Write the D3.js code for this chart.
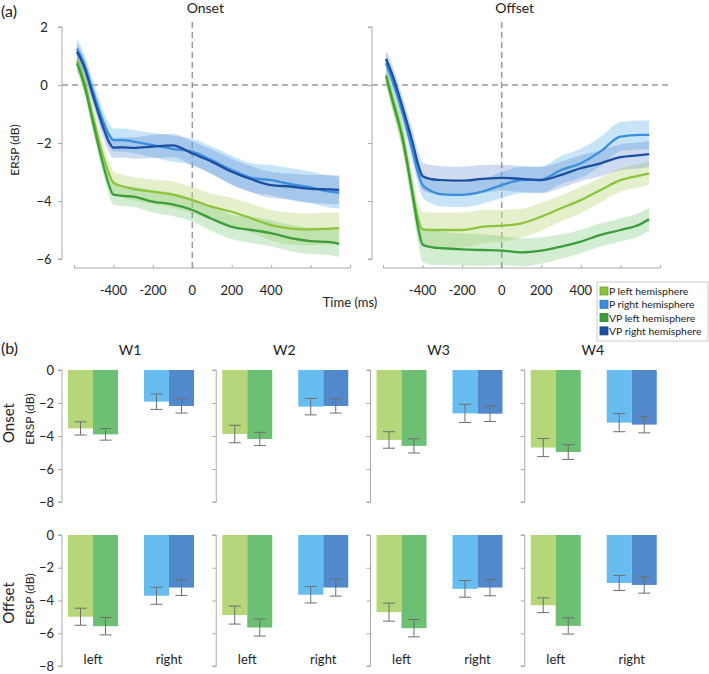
<!DOCTYPE html>
<html>
<head>
<meta charset="utf-8">
<script src="https://cdn.jsdelivr.net/npm/d3@7"></script>
<style>
  body { margin: 0; background: #fff; }
  text { font-family: Lato, "Open Sans", sans-serif; fill: #222; }
</style>
</head>
<body>
<svg id="chart" width="709" height="674"></svg>
<script>
// ---- data (a): time course ----
const time = [-585, -550, -500, -450, -420, -400, -350, -300, -200, -100, 0, 100, 200, 300, 400, 500, 600, 700, 745];

const onsetPLeft   = [0.85, 0.2, -1.2, -2.5, -3.1, -3.37, -3.5, -3.58, -3.68, -3.78, -3.97, -4.2, -4.37, -4.6, -4.83, -4.95, -4.98, -4.95, -4.94];
const onsetVPLeft  = [0.75, 0.05, -1.4, -2.8, -3.5, -3.78, -3.82, -3.85, -4.02, -4.12, -4.31, -4.62, -4.89, -5.0, -5.11, -5.28, -5.38, -5.42, -5.48];
const onsetPRight  = [1.25, 0.75, -0.3, -1.3, -1.75, -1.9, -1.9, -1.95, -2.07, -2.2, -2.3, -2.6, -2.93, -3.2, -3.28, -3.42, -3.53, -3.68, -3.71];
const onsetVPRight = [1.15, 0.65, -0.45, -1.5, -2.0, -2.16, -2.15, -2.17, -2.12, -2.08, -2.36, -2.65, -2.99, -3.25, -3.45, -3.5, -3.58, -3.6, -3.62];

const onsetSEPLeft   = [0.35, 0.35, 0.4, 0.4, 0.4, 0.4, 0.4, 0.4, 0.42, 0.45, 0.45, 0.45, 0.48, 0.5, 0.52, 0.55, 0.55, 0.55, 0.55];
const onsetSEVPLeft  = [0.3, 0.3, 0.35, 0.35, 0.35, 0.35, 0.35, 0.35, 0.38, 0.4, 0.4, 0.42, 0.42, 0.45, 0.45, 0.45, 0.45, 0.45, 0.45];
const onsetSEPRight  = [0.35, 0.35, 0.38, 0.4, 0.4, 0.4, 0.4, 0.4, 0.42, 0.45, 0.45, 0.48, 0.5, 0.5, 0.52, 0.55, 0.55, 0.55, 0.55];
const onsetSEVPRight = [0.3, 0.3, 0.33, 0.35, 0.35, 0.35, 0.35, 0.37, 0.4, 0.4, 0.42, 0.42, 0.45, 0.45, 0.45, 0.45, 0.48, 0.5, 0.5];

const offsetPLeft   = [0.35, -0.5, -1.8, -3.7, -4.7, -4.98, -5.0, -5.0, -5.0, -4.89, -4.85, -4.77, -4.54, -4.25, -3.97, -3.62, -3.28, -3.12, -3.05];
const offsetVPLeft  = [0.3, -0.6, -1.9, -3.8, -5.0, -5.5, -5.6, -5.63, -5.67, -5.69, -5.71, -5.77, -5.71, -5.57, -5.4, -5.17, -5.0, -4.8, -4.63];
const offsetPRight  = [0.75, 0.1, -1.0, -2.3, -3.1, -3.45, -3.68, -3.77, -3.79, -3.68, -3.45, -3.28, -3.26, -2.93, -2.7, -2.29, -1.78, -1.72, -1.72];
const offsetVPRight = [0.9, 0.3, -0.8, -2.0, -2.8, -3.15, -3.25, -3.28, -3.3, -3.24, -3.2, -3.24, -3.28, -3.1, -2.87, -2.7, -2.49, -2.42, -2.38];

const offsetSEPLeft   = [0.35, 0.4, 0.45, 0.5, 0.55, 0.6, 0.6, 0.6, 0.6, 0.58, 0.55, 0.5, 0.48, 0.45, 0.45, 0.42, 0.4, 0.4, 0.4];
const offsetSEVPLeft  = [0.3, 0.35, 0.45, 0.5, 0.55, 0.6, 0.6, 0.58, 0.55, 0.55, 0.5, 0.48, 0.45, 0.42, 0.4, 0.4, 0.4, 0.4, 0.4];
const offsetSEPRight  = [0.35, 0.35, 0.38, 0.4, 0.4, 0.42, 0.42, 0.42, 0.42, 0.42, 0.45, 0.45, 0.45, 0.48, 0.5, 0.5, 0.5, 0.5, 0.5];
const offsetSEVPRight = [0.3, 0.33, 0.38, 0.42, 0.45, 0.48, 0.48, 0.48, 0.48, 0.48, 0.45, 0.45, 0.45, 0.45, 0.45, 0.45, 0.45, 0.45, 0.45];

const seriesNames = ["P left hemisphere", "P right hemisphere", "VP left hemisphere", "VP right hemisphere"];
const xTicks = [-600, -400, -200, 0, 200, 400, 600, 800];
const xTickLabels = [-400, -200, 0, 200, 400];
const yTicksA = [2, 0, -2, -4, -6];

// ---- data (b): window means ----
const windows = ["W1", "W2", "W3", "W4"];
const hemis = ["left", "right"];
const onsetBarPLeft   = [-3.54, -3.88, -4.24, -4.7];
const onsetBarVPLeft  = [-3.9, -4.18, -4.6, -4.97];
const onsetBarPRight  = [-1.92, -2.22, -2.63, -3.19];
const onsetBarVPRight = [-2.18, -2.18, -2.65, -3.31];
const onsetErrPLeft   = [0.4, 0.53, 0.5, 0.55];
const onsetErrVPLeft  = [0.35, 0.4, 0.43, 0.45];
const onsetErrPRight  = [0.47, 0.5, 0.55, 0.55];
const onsetErrVPRight = [0.43, 0.43, 0.47, 0.5];

const offsetBarPLeft   = [-4.99, -4.89, -4.71, -4.29];
const offsetBarVPLeft  = [-5.57, -5.65, -5.69, -5.55];
const offsetBarPRight  = [-3.71, -3.65, -3.29, -2.93];
const offsetBarVPRight = [-3.21, -3.21, -3.21, -3.05];
const offsetErrPLeft   = [0.52, 0.55, 0.55, 0.45];
const offsetErrVPLeft  = [0.53, 0.52, 0.53, 0.5];
const offsetErrPRight  = [0.52, 0.5, 0.51, 0.46];
const offsetErrVPRight = [0.48, 0.52, 0.5, 0.5];
const yTicksB = [0, -2, -4, -6, -8];

// colours
const lineColor = { pl: "#8cc43c", pr: "#3a8fdc", vl: "#3b9e3b", vr: "#1c4fa3" };
const bandColor = { pl: "rgba(196,222,140,0.45)", pr: "rgba(130,195,240,0.45)", vl: "rgba(110,195,110,0.3)", vr: "rgba(80,125,200,0.28)" };
const barColor = { pl: "#b5d77a", vl: "#6dbf74", pr: "#68bdf0", vr: "#5289cc" };
const axisGrey = "#aaa";

const svg = d3.select("#chart");
svg.append("rect").attr("width", 709).attr("height", 674).attr("fill", "#fff");

// ================= (a) =================
const yA = d3.scaleLinear().domain([-6, 2]).range([259, 27]);
const panelsA = [
  { title: "Onset", x: d3.scaleLinear().domain([-600, 800]).range([74, 350]), axisX: 62, labels: true,
    series: [
      { k: "pl", v: onsetPLeft, se: onsetSEPLeft }, { k: "pr", v: onsetPRight, se: onsetSEPRight },
      { k: "vl", v: onsetVPLeft, se: onsetSEVPLeft }, { k: "vr", v: onsetVPRight, se: onsetSEVPRight }] },
  { title: "Offset", x: d3.scaleLinear().domain([-600, 800]).range([383, 660]), axisX: 372, labels: false,
    series: [
      { k: "pl", v: offsetPLeft, se: offsetSEPLeft }, { k: "pr", v: offsetPRight, se: offsetSEPRight },
      { k: "vl", v: offsetVPLeft, se: offsetSEVPLeft }, { k: "vr", v: offsetVPRight, se: offsetSEVPRight }] }
];

svg.append("text").attr("x", 1).attr("y", 17).attr("font-size", 16).text("(a)");

// dashed zero line spanning both panels
svg.append("line")
  .attr("x1", 62).attr("x2", 672).attr("y1", yA(0)).attr("y2", yA(0))
  .attr("stroke", "#999").attr("stroke-width", 1.5).attr("stroke-dasharray", "6,4");

panelsA.forEach(p => {
  const g = svg.append("g");
  const x = p.x;

  // y axis
  const yAxis = d3.axisLeft(yA).tickValues(yTicksA).tickSize(4)
    .tickFormat(p.labels ? d3.format("d") : "");
  const ya = g.append("g").attr("transform", `translate(${p.axisX},0)`).call(yAxis);
  ya.select(".domain").attr("stroke", axisGrey).attr("d", `M-4,${yA(2)}H0V${yA(-6)}H-4`);
  ya.selectAll(".tick line").attr("stroke", axisGrey);
  ya.selectAll(".tick text").attr("font-size", 13).attr("font-family", "Lato").attr("fill", "#222")
    .attr("x", -18).attr("text-anchor", "middle");

  // x axis
  const xAxis = d3.axisTop(x).tickValues(xTicks).tickSize(3)
    .tickFormat("");
  const xa = g.append("g").attr("transform", `translate(0,268)`).call(xAxis);
  xa.select(".domain").attr("stroke", axisGrey).attr("d", `M${x(-600)},0H${x(800)}`);
  xa.selectAll(".tick line").attr("stroke", axisGrey);
  g.selectAll(".xlab").data(xTickLabels).join("text")
    .attr("x", d => x(d)).attr("y", 295).attr("text-anchor", "middle").attr("font-size", 13)
    .text(d => d);

  // vertical dashed at 0
  g.append("line").attr("x1", x(0)).attr("x2", x(0)).attr("y1", 22).attr("y2", 268)
    .attr("stroke", "#999").attr("stroke-width", 1.5).attr("stroke-dasharray", "6,4");

  // bands
  const area = d3.area().curve(d3.curveMonotoneX)
    .x((d, i) => x(time[i]));
  p.series.forEach(s => {
    g.append("path")
      .attr("d", area.y0((d, i) => yA(s.v[i] - s.se[i])).y1((d, i) => yA(s.v[i] + s.se[i]))(s.v))
      .attr("fill", bandColor[s.k]);
  });
  // lines
  const line = d3.line().curve(d3.curveMonotoneX)
    .x((d, i) => x(time[i])).y(d => yA(d));
  p.series.forEach(s => {
    g.append("path").attr("d", line(s.v)).attr("fill", "none")
      .attr("stroke", lineColor[s.k]).attr("stroke-width", 2.3);
  });

  g.append("text").attr("x", x(0) + 13).attr("y", 13).attr("text-anchor", "middle")
    .attr("font-size", 14).text(p.title);
});

svg.append("text").attr("transform", "translate(19,150) rotate(-90)")
  .attr("text-anchor", "middle").attr("font-size", 12).text("ERSP (dB)");
svg.append("text").attr("x", 350).attr("y", 307).attr("text-anchor", "middle")
  .attr("font-size", 13).text("Time (ms)");

// legend
const legend = svg.append("g").attr("transform", "translate(597,282)");
legend.append("rect").attr("width", 111).attr("height", 59).attr("fill", "#fff").attr("stroke", "#ccc");
const legendKeys = ["pl", "pr", "vl", "vr"];
legendKeys.forEach((k, i) => {
  const row = legend.append("g").attr("transform", `translate(3,${9 + i * 13.3})`);
  row.append("rect").attr("x", 0).attr("y", -4).attr("width", 8).attr("height", 8)
    .attr("fill", lineColor[k]).attr("stroke", d3.color(lineColor[k]).darker(0.6)).attr("stroke-width", 0.8);
  row.append("text").attr("x", 9).attr("y", 4).attr("font-size", 10.4).text(seriesNames[i]);
});

// ================= (b) =================
svg.append("text").attr("x", 1).attr("y", 354).attr("font-size", 16).text("(b)");

const panelX = d3.scaleBand().domain(windows).range([62, 679]);
const groupX = d3.scaleBand().domain(hemis).range([6, 132]).paddingInner(0.342);
const barX = d3.scaleBand().domain([0, 1]).range([0, groupX.bandwidth()]);

const rows = [
  { name: "Onset", y: d3.scaleLinear().domain([-8, 0]).range([502, 370]),
    left: [onsetBarPLeft, onsetBarVPLeft], right: [onsetBarPRight, onsetBarVPRight],
    leftErr: [onsetErrPLeft, onsetErrVPLeft], rightErr: [onsetErrPRight, onsetErrVPRight],
    labelX: 14, cy: 423, xLabels: false },
  { name: "Offset", y: d3.scaleLinear().domain([-8, 0]).range([666, 535]),
    left: [offsetBarPLeft, offsetBarVPLeft], right: [offsetBarPRight, offsetBarVPRight],
    leftErr: [offsetErrPLeft, offsetErrVPLeft], rightErr: [offsetErrPRight, offsetErrVPRight],
    labelX: 14, cy: 603, xLabels: true }
];

windows.forEach((w, wi) => {
  svg.append("text").attr("x", panelX(w) + 68).attr("y", 355).attr("text-anchor", "middle")
    .attr("font-size", 14).text(w);
});

rows.forEach(r => {
  svg.append("text").attr("transform", `translate(${r.labelX},${r.cy}) rotate(-90)`)
    .attr("text-anchor", "middle").attr("font-size", 15).text(r.name);
  svg.append("text").attr("transform", `translate(34,${r.cy - 4}) rotate(-90)`)
    .attr("text-anchor", "middle").attr("font-size", 12).text("ERSP (dB)");

  windows.forEach((w, wi) => {
    const g = svg.append("g").attr("transform", `translate(${panelX(w)},0)`);
    const ax = d3.axisLeft(r.y).tickValues(yTicksB).tickSize(4).tickPadding(4)
      .tickFormat(wi === 0 ? d3.format("d") : "");
    const a = g.append("g").call(ax);
    a.select(".domain").attr("stroke", axisGrey).attr("d", `M-4,${r.y(0)}H0V${r.y(-8)}H-4`);
    a.selectAll(".tick line").attr("stroke", axisGrey);
    a.selectAll(".tick text").attr("font-size", 13).attr("font-family", "Lato").attr("fill", "#222");

    const bars = [];
    hemis.forEach(h => {
      const vals = h === "left" ? r.left : r.right;
      const errs = h === "left" ? r.leftErr : r.rightErr;
      const keys = h === "left" ? ["pl", "vl"] : ["pr", "vr"];
      [0, 1].forEach(j => bars.push({ x: groupX(h) + barX(j), v: vals[j][wi], e: errs[j][wi], k: keys[j] }));
    });

    g.selectAll("rect.bar").data(bars).join("rect").attr("class", "bar")
      .attr("x", d => d.x).attr("width", barX.bandwidth())
      .attr("y", r.y(0)).attr("height", d => r.y(d.v) - r.y(0))
      .attr("fill", d => barColor[d.k]);

    const eb = g.selectAll("g.err").data(bars).join("g").attr("class", "err")
      .attr("stroke", "#6f6f6f").attr("stroke-width", 1);
    eb.append("line").attr("x1", d => d.x + barX.bandwidth() / 2).attr("x2", d => d.x + barX.bandwidth() / 2)
      .attr("y1", d => r.y(d.v + d.e)).attr("y2", d => r.y(d.v - d.e));
    eb.append("line").attr("x1", d => d.x + barX.bandwidth() / 2 - 6).attr("x2", d => d.x + barX.bandwidth() / 2 + 6)
      .attr("y1", d => r.y(d.v + d.e)).attr("y2", d => r.y(d.v + d.e));
    eb.append("line").attr("x1", d => d.x + barX.bandwidth() / 2 - 6).attr("x2", d => d.x + barX.bandwidth() / 2 + 6)
      .attr("y1", d => r.y(d.v - d.e)).attr("y2", d => r.y(d.v - d.e));

    if (r.xLabels) {
      g.selectAll("text.hemi").data(hemis).join("text").attr("class", "hemi")
        .attr("x", h => groupX(h) + groupX.bandwidth() / 2).attr("y", 664)
        .attr("text-anchor", "middle").attr("font-size", 13).text(h => h);
    }
  });
});
</script>
</body>
</html>
